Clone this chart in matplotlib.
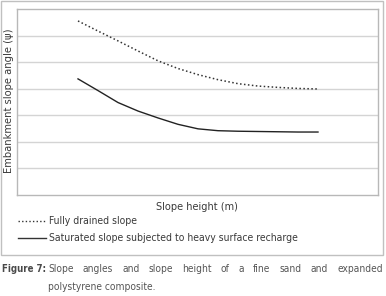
import matplotlib
matplotlib.use('Agg')
import matplotlib.pyplot as plt
from matplotlib.lines import Line2D
from matplotlib.patches import Rectangle

plt.rcParams['font.family'] = ['DejaVu Sans']
plt.rcParams['font.stretch'] = 'condensed'

# data (slope height has no scale on the axis)
slope_height = [0, 0.5, 1, 1.5, 2, 2.5, 3, 3.5, 4, 4.5, 5, 5.5, 6]
drained = [6.55, 6.17, 5.80, 5.42, 5.05, 4.76, 4.53, 4.34, 4.19, 4.10, 4.05, 4.01, 3.99]
saturated = [4.37, 3.93, 3.48, 3.16, 2.90, 2.66, 2.49, 2.42, 2.40, 2.39, 2.38, 2.37, 2.37]

W, H = 386, 296
fig = plt.figure(figsize=(W / 100, H / 100), dpi=100)

def px(x, y):
    return x / W, 1 - y / H

# outer chart frame
fig.patches.append(Rectangle(px(1, 255), 382 / W, 254 / H, transform=fig.transFigure,
                             fill=False, edgecolor='#c0c0c0', linewidth=1))

ax = fig.add_axes([17 / W, 1 - 195 / H, 361 / W, 186 / H])
ax.plot(slope_height, drained, color='#333333', linewidth=1.1, linestyle=(0, (1, 1.6)))
ax.plot(slope_height, saturated, color='#222222', linewidth=1.0)
ax.set_xlim(-1.525, 7.5)
ax.set_ylim(0, 7)
ax.set_yticks(range(1, 7))
ax.set_xticks([])
ax.tick_params(left=False, labelleft=False)
ax.grid(axis='y', color='#d4d4d4', linewidth=1)
for s in ax.spines.values():
    s.set_color('#b8b8b8')
    s.set_linewidth(1)

tc = '#3a3a3a'
fig.text(*px(9, 101), 'Embankment slope angle (\u03c8)', rotation=90, ha='center', va='center',
         fontsize=8, color=tc)
fig.text(*px(197, 207), 'Slope height (m)', ha='center', va='center', fontsize=7.8, color=tc)

# legend
leg = [('Fully drained slope', (0, (1, 1.6)), 221),
       ('Saturated slope subjected to heavy surface recharge', '-', 238)]
for label, ls, y in leg:
    fig.lines.append(Line2D([18 / W, 46 / W], [1 - y / H] * 2, transform=fig.transFigure,
                            color='#333333', linewidth=1.0, linestyle=ls))
    fig.text(*px(49, y), label, ha='left', va='center', fontsize=7.5, color=tc)

# caption: label fitted into x=2..46, first line justified between x=48 and x=383
fig.canvas.draw()
r = fig.canvas.get_renderer()
fl = fig.text(*px(2, 269), 'Figure 7:', ha='left', va='center', fontsize=8, fontweight='bold', color='#4a4a4a')
fw = fl.get_window_extent(r).width
if fw > 44:
    fl.set_fontsize(8 * 44 / fw)
line1 = 'Slope angles and slope height of a fine sand and expanded'.split()
texts = [fig.text(0, 1 - 269 / H, w, ha='left', va='center', fontsize=7.3, color='#555555') for w in line1]
widths = [t.get_window_extent(r).width for t in texts]
gap = (383 - 48 - sum(widths)) / (len(line1) - 1)
x = 48
for t, w in zip(texts, widths):
    t.set_x(x / W)
    x += w + gap
fig.text(*px(48, 287), 'polystyrene composite.', ha='left', va='center', fontsize=7.3, color='#555555')

fig.savefig('out.png', dpi=100)
